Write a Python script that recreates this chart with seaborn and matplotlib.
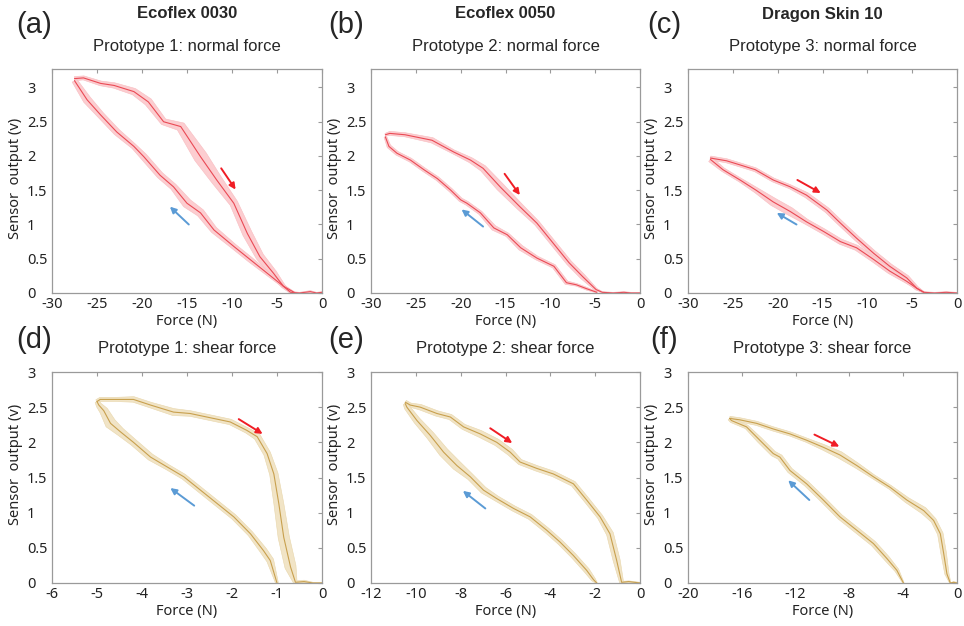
import numpy as np
import matplotlib
matplotlib.use("Agg")
import matplotlib.pyplot as plt
import seaborn as sns

# ---------------- data: hysteresis loops (mean curve + half band width) ----------------
# (a) Ecoflex 0030, prototype 1, normal force
a_up_x = [-27.5, -26.5, -24.6, -23.1, -20.9, -19.3, -17.6, -15.7, -13.5, -11.7, -9.8, -8.3, -6.9, -5.4, -4.3, -3.5, -2.5, -1.3, -0.6, 0.0]
a_up_y = [3.13, 3.14, 3.06, 3.03, 2.94, 2.79, 2.50, 2.43, 1.99, 1.65, 1.31, 0.87, 0.53, 0.29, 0.10, 0.01, 0.00, 0.02, 0.00, 0.01]
a_up_sd = [0.03, 0.03, 0.035, 0.04, 0.05, 0.06, 0.05, 0.07, 0.10, 0.08, 0.06, 0.07, 0.06, 0.05, 0.03, 0.015, 0.01, 0.015, 0.01, 0.01]
a_lo_x = [-27.5, -26.1, -24.6, -22.8, -20.9, -19.8, -18.0, -16.5, -15.0, -13.5, -12.0, -9.8, -8.0, -6.1, -4.3, -3.1]
a_lo_y = [3.10, 2.82, 2.60, 2.35, 2.14, 1.99, 1.72, 1.55, 1.31, 1.17, 0.92, 0.68, 0.49, 0.29, 0.10, 0.01]
a_lo_sd = [0.04, 0.06, 0.05, 0.05, 0.04, 0.05, 0.05, 0.05, 0.07, 0.06, 0.05, 0.04, 0.04, 0.03, 0.02, 0.01]

# (b) Ecoflex 0050, prototype 2, normal force
b_up_x = [-28.4, -27.9, -26.2, -23.2, -20.8, -18.9, -17.5, -15.6, -13.4, -11.5, -9.7, -7.9, -6.4, -4.9, -4.2, -3.0, -1.8, -1.0, 0.0]
b_up_y = [2.31, 2.33, 2.31, 2.23, 2.06, 1.94, 1.82, 1.55, 1.26, 1.02, 0.73, 0.44, 0.24, 0.05, 0.01, 0.00, 0.01, 0.00, 0.00]
b_up_sd = [0.02, 0.03, 0.03, 0.04, 0.03, 0.04, 0.05, 0.06, 0.05, 0.04, 0.04, 0.04, 0.04, 0.02, 0.01, 0.01, 0.01, 0.01, 0.01]
b_lo_x = [-28.4, -28.0, -27.1, -25.6, -24.1, -22.6, -21.1, -20.0, -19.3, -17.8, -16.3, -14.8, -13.3, -11.5, -9.6, -8.2, -7.1, -5.9, -4.8]
b_lo_y = [2.28, 2.14, 2.04, 1.94, 1.80, 1.67, 1.50, 1.36, 1.31, 1.17, 0.95, 0.85, 0.66, 0.51, 0.39, 0.15, 0.12, 0.06, 0.01]
b_lo_sd = [0.02, 0.03, 0.03, 0.03, 0.03, 0.03, 0.03, 0.03, 0.03, 0.03, 0.04, 0.03, 0.04, 0.03, 0.03, 0.03, 0.02, 0.02, 0.01]

# (c) Dragon Skin 10, prototype 3, normal force
c_up_x = [-27.5, -25.7, -24.2, -22.5, -20.5, -18.6, -16.8, -14.5, -13.0, -11.2, -9.3, -7.5, -5.6, -4.5, -3.7, -2.5, -1.2, 0.0]
c_up_y = [1.97, 1.93, 1.87, 1.80, 1.65, 1.55, 1.43, 1.21, 1.02, 0.80, 0.58, 0.39, 0.22, 0.07, 0.01, 0.00, 0.01, 0.00]
c_up_sd = [0.03, 0.03, 0.03, 0.03, 0.03, 0.03, 0.04, 0.04, 0.04, 0.04, 0.04, 0.04, 0.04, 0.03, 0.01, 0.01, 0.01, 0.01]
c_lo_x = [-27.5, -26.1, -24.2, -22.4, -20.5, -18.6, -16.8, -14.9, -13.0, -11.2, -9.3, -7.5, -5.6, -4.5, -3.7]
c_lo_y = [1.95, 1.80, 1.65, 1.50, 1.33, 1.19, 1.04, 0.90, 0.75, 0.66, 0.49, 0.32, 0.17, 0.07, 0.01]
c_lo_sd = [0.04, 0.03, 0.03, 0.04, 0.06, 0.06, 0.04, 0.04, 0.04, 0.04, 0.04, 0.04, 0.03, 0.02, 0.01]

# (d) prototype 1, shear force
d_up_x = [-5.0, -4.93, -4.56, -4.19, -3.81, -3.30, -2.93, -2.56, -2.04, -1.67, -1.44, -1.22, -1.07, -0.96, -0.85, -0.70, -0.59, -0.40, -0.20, 0.0]
d_up_y = [2.58, 2.61, 2.61, 2.61, 2.53, 2.43, 2.41, 2.36, 2.29, 2.17, 2.08, 1.84, 1.55, 1.13, 0.65, 0.23, 0.01, 0.02, 0.00, 0.00]
d_up_sd = [0.03, 0.03, 0.03, 0.04, 0.04, 0.05, 0.04, 0.04, 0.04, 0.04, 0.05, 0.05, 0.06, 0.07, 0.08, 0.08, 0.03, 0.02, 0.01, 0.01]
d_lo_x = [-5.0, -4.96, -4.85, -4.70, -4.48, -4.19, -3.81, -3.44, -3.07, -2.70, -2.33, -1.96, -1.59, -1.30, -1.15, -1.0]
d_lo_y = [2.58, 2.53, 2.45, 2.27, 2.15, 2.00, 1.79, 1.65, 1.51, 1.32, 1.13, 0.94, 0.70, 0.46, 0.32, 0.00]
d_lo_sd = [0.03, 0.04, 0.06, 0.08, 0.06, 0.05, 0.05, 0.04, 0.04, 0.04, 0.04, 0.04, 0.04, 0.05, 0.05, 0.02]

# (e) prototype 2, shear force
e_up_x = [-10.47, -10.25, -9.80, -9.06, -8.46, -7.87, -7.13, -6.39, -5.79, -5.35, -4.61, -3.86, -2.97, -2.38, -1.78, -1.34, -1.04, -0.82, -0.50, 0.0]
e_up_y = [2.57, 2.53, 2.50, 2.41, 2.36, 2.22, 2.12, 2.00, 1.86, 1.72, 1.63, 1.55, 1.41, 1.18, 0.94, 0.70, 0.32, 0.01, 0.02, 0.00]
e_up_sd = [0.03, 0.03, 0.04, 0.04, 0.04, 0.04, 0.05, 0.05, 0.05, 0.04, 0.04, 0.04, 0.04, 0.04, 0.04, 0.05, 0.05, 0.03, 0.01, 0.01]
e_lo_x = [-10.47, -10.40, -9.95, -9.36, -8.76, -8.17, -7.57, -6.98, -6.39, -5.64, -4.90, -4.16, -3.56, -2.97, -2.38, -2.08, -1.93]
e_lo_y = [2.55, 2.50, 2.31, 2.10, 1.86, 1.67, 1.51, 1.32, 1.20, 1.06, 0.94, 0.75, 0.58, 0.39, 0.18, 0.05, 0.00]
e_lo_sd = [0.03, 0.04, 0.05, 0.06, 0.07, 0.07, 0.05, 0.05, 0.04, 0.04, 0.04, 0.04, 0.04, 0.04, 0.04, 0.03, 0.01]

# (f) prototype 3, shear force
f_up_x = [-16.9, -16.15, -14.9, -13.66, -12.42, -11.18, -9.94, -8.70, -7.45, -6.21, -4.97, -3.73, -2.48, -1.74, -1.24, -0.99, -0.75, -0.50, -0.25, 0.0]
f_up_y = [2.34, 2.32, 2.27, 2.19, 2.12, 2.03, 1.93, 1.82, 1.67, 1.51, 1.36, 1.18, 1.03, 0.89, 0.70, 0.42, 0.13, 0.00, 0.01, 0.00]
f_up_sd = [0.03, 0.03, 0.03, 0.03, 0.03, 0.03, 0.04, 0.05, 0.04, 0.03, 0.03, 0.04, 0.05, 0.04, 0.04, 0.04, 0.03, 0.01, 0.01, 0.01]
f_lo_x = [-16.9, -16.77, -15.65, -14.66, -13.66, -13.17, -12.42, -11.18, -9.94, -8.70, -7.45, -6.21, -5.22, -4.47, -3.98]
f_lo_y = [2.34, 2.31, 2.22, 2.03, 1.84, 1.79, 1.60, 1.41, 1.18, 0.94, 0.75, 0.56, 0.35, 0.18, 0.00]
f_lo_sd = [0.03, 0.03, 0.03, 0.04, 0.04, 0.04, 0.04, 0.04, 0.04, 0.04, 0.04, 0.04, 0.04, 0.03, 0.01]

# direction arrows (start, end) in data coordinates
a_red = [(-11.2, 1.82), (-9.6, 1.51)]
a_blue = [(-14.8, 1.00), (-16.9, 1.26)]
b_red = [(-15.1, 1.74), (-13.4, 1.43)]
b_blue = [(-17.5, 0.97), (-19.9, 1.22)]
c_red = [(-17.8, 1.65), (-15.2, 1.46)]
c_blue = [(-17.9, 1.00), (-20.1, 1.17)]
d_red = [(-1.85, 2.33), (-1.32, 2.12)]
d_blue = [(-2.84, 1.10), (-3.37, 1.35)]
e_red = [(-6.68, 2.20), (-5.70, 1.99)]
e_blue = [(-6.90, 1.06), (-7.90, 1.31)]
f_red = [(-10.6, 2.11), (-8.75, 1.94)]
f_blue = [(-10.98, 1.18), (-12.55, 1.46)]

panel_letters = ["(a)", "(b)", "(c)", "(d)", "(e)", "(f)"]
materials = ["Ecoflex 0030", "Ecoflex 0050", "Dragon Skin 10"]
panel_titles = ["Prototype 1: normal force", "Prototype 2: normal force", "Prototype 3: normal force",
                "Prototype 1: shear force", "Prototype 2: shear force", "Prototype 3: shear force"]
normal_xticks = [-30, -25, -20, -15, -10, -5, 0]
shear_xticks = [[-6, -5, -4, -3, -2, -1, 0], [-12, -10, -8, -6, -4, -2, 0], [-20, -16, -12, -8, -4, 0]]
yticks = [0, 0.5, 1, 1.5, 2, 2.5, 3]
ytick_labels = ["0", "0.5", "1", "1.5", "2", "2.5", "3"]

# ---------------- style ----------------
sns.set_style("white")
plt.rcParams["font.family"] = ["Liberation Sans", "DejaVu Sans"]
TICK_FONT = ["Noto Sans", "DejaVu Sans"]

RED_LINE, RED_FILL, RED_EDGE = "#ea4a55", "#fccdd0", "#f8bcc0"
GOLD_LINE, GOLD_FILL, GOLD_EDGE = "#c8a04e", "#f1e4c6", "#e8d6ab"
ARROW_RED, ARROW_BLUE = "#f01d25", "#5b9bd5"
SPINE = "#9a9a9a"

W, H = 964, 626
fig = plt.figure(figsize=(W / 100, H / 100), dpi=100)


def px_axes(left, top, right, bottom):
    return fig.add_axes([left / W, 1 - bottom / H, (right - left) / W, (bottom - top) / H])


def band_patch(ax, x, y, hw, face, edge):
    """Shaded band of half-width hw (in volts) offset normal to the mean curve."""
    x = np.asarray(x, float)
    y = np.asarray(y, float)
    hw = np.asarray(hw, float)
    pts = ax.transData.transform(np.column_stack([x, y]))
    px_per_v = ax.transData.transform([(0, 1)])[0, 1] - ax.transData.transform([(0, 0)])[0, 1]
    d = np.gradient(pts, axis=0)
    t = d / np.linalg.norm(d, axis=1, keepdims=True)
    n = np.column_stack([-t[:, 1], t[:, 0]])
    off = n * (hw * px_per_v)[:, None]
    poly = np.vstack([pts + off, (pts - off)[::-1]])
    poly = ax.transData.inverted().transform(poly)
    ax.fill(poly[:, 0], poly[:, 1], facecolor=face, edgecolor=edge, lw=0.4, zorder=1)


def draw_panel(ax, branches, line, face, edge, xticks, ylim, red, blue, label_y):
    ax.set_xlim(xticks[0], xticks[-1])
    ax.set_ylim(*ylim)
    for bx, by, bsd in branches:
        band_patch(ax, bx, by, bsd, face, edge)
    for bx, by, bsd in branches:
        sns.lineplot(x=bx, y=by, sort=False, estimator=None, ax=ax, color=line, lw=0.8, zorder=2)
    for (sx, sy), (ex, ey), col in [(red[0], red[1], ARROW_RED), (blue[0], blue[1], ARROW_BLUE)]:
        ax.annotate("", xy=(ex, ey), xytext=(sx, sy),
                    arrowprops=dict(arrowstyle="-|>", color=col, lw=1.4, mutation_scale=9,
                                    shrinkA=0, shrinkB=0), zorder=3)
    ax.set_xticks(xticks)
    ax.set_xticklabels([str(t) for t in xticks], family=TICK_FONT, fontsize=10.5, color="#222222")
    ax.set_yticks(yticks)
    ax.set_yticklabels(ytick_labels, family=TICK_FONT, fontsize=10.5, color="#222222", ha="left")
    ax.tick_params(direction="in", top=True, right=True, length=3, width=0.8, color=SPINE)
    ax.tick_params(axis="y", pad=18)
    ax.tick_params(axis="x", pad=3)
    for s in ax.spines.values():
        s.set_color(SPINE)
        s.set_linewidth(0.9)
    ax.set_xlabel("Force (N)", family=TICK_FONT, fontsize=10.5, color="#222222", labelpad=1)
    ax.set_ylabel("Sensor  output (v)", family=TICK_FONT, fontsize=10.5, color="#222222")
    ax.yaxis.set_label_coords(-29 / 270, label_y)


cols = [(52, 322), (371, 640), (688, 957)]
top_row = (69, 293)
bot_row = (372, 583)

normal_sets = [
    ([(a_up_x, a_up_y, a_up_sd), (a_lo_x, a_lo_y, a_lo_sd)], a_red, a_blue),
    ([(b_up_x, b_up_y, b_up_sd), (b_lo_x, b_lo_y, b_lo_sd)], b_red, b_blue),
    ([(c_up_x, c_up_y, c_up_sd), (c_lo_x, c_lo_y, c_lo_sd)], c_red, c_blue),
]
shear_sets = [
    ([(d_up_x, d_up_y, d_up_sd), (d_lo_x, d_lo_y, d_lo_sd)], d_red, d_blue),
    ([(e_up_x, e_up_y, e_up_sd), (e_lo_x, e_lo_y, e_lo_sd)], e_red, e_blue),
    ([(f_up_x, f_up_y, f_up_sd), (f_lo_x, f_lo_y, f_lo_sd)], f_red, f_blue),
]

letter_x = [34, 346, 664]
for i, (l, r) in enumerate(cols):
    ax = px_axes(l, top_row[0], r, top_row[1])
    br, red, blue = normal_sets[i]
    draw_panel(ax, br, RED_LINE, RED_FILL, RED_EDGE, normal_xticks, (0, 3.27), red, blue, 0.51)
    cx = (l + r) / 2
    fig.text(cx / W, 1 - 14 / H, materials[i], ha="center", va="center", fontsize=12, weight="bold")
    fig.text(cx / W, 1 - 46 / H, panel_titles[i], ha="center", va="center", fontsize=12)
    fig.text(letter_x[i] / W, 1 - 25 / H, panel_letters[i], ha="center", va="center", fontsize=21)

    ax = px_axes(l, bot_row[0], r, bot_row[1])
    br, red, blue = shear_sets[i]
    draw_panel(ax, br, GOLD_LINE, GOLD_FILL, GOLD_EDGE, shear_xticks[i], (0, 3.0), red, blue, 0.56)
    fig.text(cx / W, 1 - 349 / H, panel_titles[i + 3], ha="center", va="center", fontsize=12)
    fig.text(letter_x[i] / W, 1 - 340 / H, panel_letters[i + 3], ha="center", va="center", fontsize=21)

fig.savefig("out.png", dpi=100)
